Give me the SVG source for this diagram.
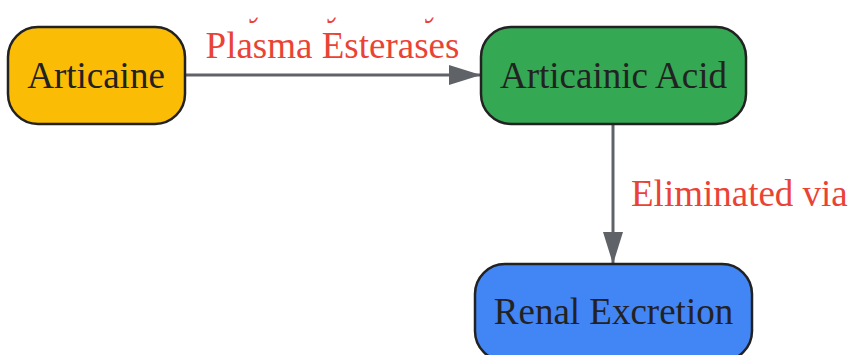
<svg xmlns="http://www.w3.org/2000/svg" width="850" height="355" viewBox="0 0 850 355">
<defs>
<style>
.node rect{stroke:#222222;stroke-width:2.5}
.node text{font-family:"Liberation Serif","Times New Roman",serif;font-size:37px;fill:#222222;text-anchor:middle}
.edge{stroke:#5f6368;stroke-width:3;fill:none}
.lbl{font-family:"Liberation Serif","Times New Roman",serif;font-size:37px;fill:#EA4335}
</style>
<marker id="arr" markerWidth="32" markerHeight="20" refX="31" refY="10" orient="auto" markerUnits="userSpaceOnUse">
<path d="M0,0 L32,10 L0,20 Z" fill="#5f6368"/>
</marker>
<clipPath id="lblclip">
<rect x="150" y="17.5" width="370" height="60"/>
</clipPath>
</defs>
<rect width="850" height="355" fill="#ffffff"/>
<g id="connectors">
<path class="edge" d="M185,75 L480,75" marker-end="url(#arr)"/>
<g clip-path="url(#lblclip)">
<text class="lbl" x="332.5" y="14.5" text-anchor="middle">Hydrolyzed by</text>
</g>
<text class="lbl" x="332.5" y="58" text-anchor="middle">Plasma Esterases</text>
<path class="edge" d="M613,124 L613,263" marker-end="url(#arr)"/>
<text class="lbl" x="631" y="206">Eliminated via</text>
</g>
<g id="articaine" class="node">
<rect x="8" y="27" width="177" height="97" rx="30" ry="30" fill="#FBBC05"/>
<text x="96" y="88">Articaine</text>
</g>
<g id="articainic-acid" class="node">
<rect x="481" y="27" width="265" height="97" rx="30" ry="30" fill="#34A853"/>
<text x="613.5" y="88">Articainic Acid</text>
</g>
<g id="renal-excretion" class="node">
<rect x="475" y="264" width="277" height="97" rx="30" ry="30" fill="#4285F4"/>
<text x="613.5" y="324">Renal Excretion</text>
</g>
</svg>
